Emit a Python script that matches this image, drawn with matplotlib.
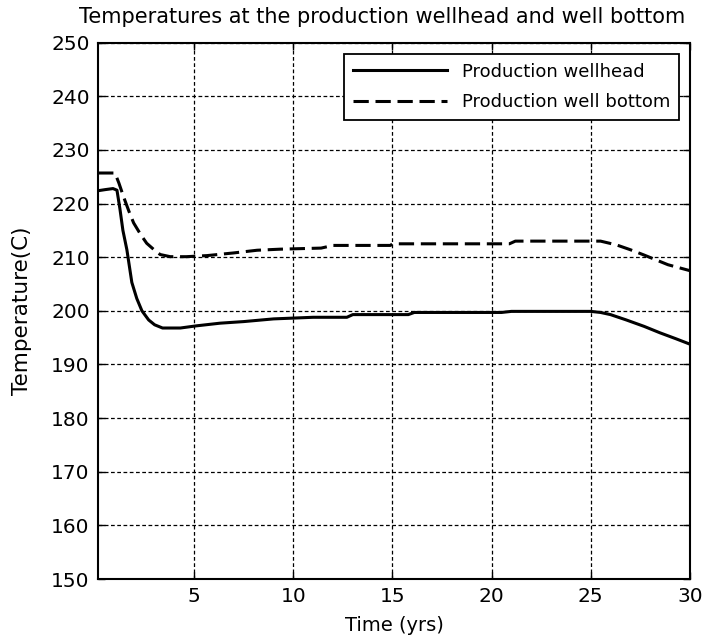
import numpy as np
from matplotlib import pyplot as plt

# production wellhead temperature (C) vs time (yrs)
t_head = [0.15, 0.5, 0.9, 1.1, 1.25, 1.4, 1.6, 1.85, 2.1, 2.36, 2.7, 3.0, 3.4, 4.3, 5.1, 6.3, 7.5, 9.0,
          11.0, 12.7, 13.0, 15.8, 16.1, 20.5, 21.0, 25.0, 25.5, 26.0, 26.8, 27.7, 28.5, 29.3, 30.0]
T_head = [222.4, 222.6, 222.8, 222.5, 219.0, 215.0, 211.4, 205.3, 202.3, 200.0, 198.3, 197.4, 196.8,
          196.8, 197.2, 197.7, 198.0, 198.5, 198.8, 198.8, 199.3, 199.3, 199.7, 199.7, 199.9, 199.9,
          199.7, 199.3, 198.3, 197.1, 195.9, 194.8, 193.8]

# production well bottom temperature (C) vs time (yrs)
t_bot = [0.15, 0.6, 1.0, 1.2, 1.43, 1.7, 1.94, 2.3, 2.6, 3.0, 3.28, 3.79, 4.6, 5.64, 6.99, 8.17, 9.34,
         11.4, 12.0, 14.9, 15.0, 20.9, 21.2, 25.5, 26.3, 27.0, 27.7, 28.3, 28.9, 29.5, 30.0]
T_bot = [225.7, 225.7, 225.7, 223.8, 221.3, 218.6, 216.4, 214.2, 212.6, 211.3, 210.5, 210.1, 210.1,
         210.3, 210.8, 211.3, 211.5, 211.7, 212.2, 212.2, 212.5, 212.5, 213.0, 213.0, 212.3, 211.4,
         210.4, 209.5, 208.6, 208.0, 207.5]

xticks = [5, 10, 15, 20, 25, 30]
yticks = np.arange(150, 251, 10)

fig = plt.figure(figsize=(7.06, 6.4), dpi=100)
ax = fig.add_axes([0.139, 0.0953, 0.838, 0.838])

ax.plot(t_head, T_head, color='k', lw=2.2, label='Production wellhead')
ax.plot(t_bot, T_bot, color='k', lw=2.2, ls=(0, (5, 2.2)), label='Production well bottom')

ax.set_xlim(0.15, 30)
ax.set_ylim(150, 250)
ax.set_xticks(xticks)
ax.set_yticks(yticks)
ax.tick_params(direction='in', length=5, width=1, labelsize=14.5, top=True, right=True, pad=6)
ax.grid(True, color='k', lw=0.9, ls=(0, (3, 2)))
for s in ax.spines.values():
    s.set_linewidth(1.5)

ax.set_title('Temperatures at the production wellhead and well bottom', fontsize=15, pad=14, x=0.48)
ax.set_xlabel('Time (yrs)', fontsize=14, labelpad=7)
ax.set_ylabel('Temperature(C)', fontsize=15.5, labelpad=14)

leg = ax.legend(loc='upper right', fontsize=13, handlelength=5.2, handletextpad=0.8,
                fancybox=False, edgecolor='k', framealpha=1, borderaxespad=0.6,
                labelspacing=0.7, borderpad=0.5)
leg.get_frame().set_linewidth(1.3)

fig.savefig('out.png', dpi=100)
